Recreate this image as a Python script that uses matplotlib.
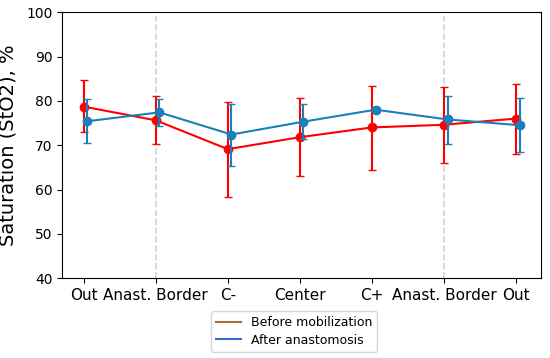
import matplotlib
matplotlib.use("Agg")
import matplotlib.pyplot as plt
from matplotlib.lines import Line2D

labels = ['Out', 'Anast. Border', 'C-', 'Center', 'C+', 'Anast. Border', 'Out']
before = [78.7, 75.6, 69.1, 71.8, 74.0, 74.6, 76.0]
before_lo = [73.0, 70.2, 58.4, 63.0, 64.4, 66.0, 67.9]
before_hi = [84.7, 81.2, 79.8, 80.6, 83.4, 83.1, 83.9]
after = [75.4, 77.4, 72.4, 75.3, 78.0, 75.8, 74.5]
after_lo = [70.4, 74.4, 65.4, 71.4, 77.4, 70.2, 68.5]
after_hi = [80.4, 80.4, 79.3, 79.2, 78.7, 81.2, 80.6]

x = list(range(len(labels)))
x2 = [i + 0.05 for i in x]

fig = plt.figure(figsize=(5.5, 3.58), dpi=100)
ax = fig.add_axes([0.113, 0.223, 0.871, 0.743])

for v in [1, 5]:
    ax.axvline(v, color='lightgray', linestyle='--', linewidth=1.2, zorder=0)

red_err = [[b - l for b, l in zip(before, before_lo)], [h - b for b, h in zip(before, before_hi)]]
blue_err = [[a - l for a, l in zip(after, after_lo)], [h - a for a, h in zip(after, after_hi)]]

ax.errorbar(x, before, yerr=red_err, color='red', marker='o', markersize=6,
            linewidth=1.5, capsize=3, elinewidth=1.5, zorder=2)
ax.errorbar(x2, after, yerr=blue_err, color='#1a80bb', marker='o', markersize=6,
            linewidth=1.5, capsize=3, elinewidth=1.5, zorder=3)

ax.set_xlim(-0.3, 6.35)
ax.set_ylim(40, 100)
ax.set_xticks(x)
ax.set_xticklabels(labels, fontsize=11)
ax.tick_params(axis='y', labelsize=10)
ax.set_ylabel('Saturation (StO2), %', fontsize=14, labelpad=6)

handles = [Line2D([], [], color='#a0703a', linewidth=1.5),
           Line2D([], [], color='#2a6fd0', linewidth=1.5)]
fig.legend(handles, ['Before mobilization', 'After anastomosis'],
           loc='upper center', bbox_to_anchor=(0.535, 0.148), fontsize=9,
           handlelength=2, borderpad=0.4, labelspacing=0.35)

fig.savefig('out.png', dpi=100)
